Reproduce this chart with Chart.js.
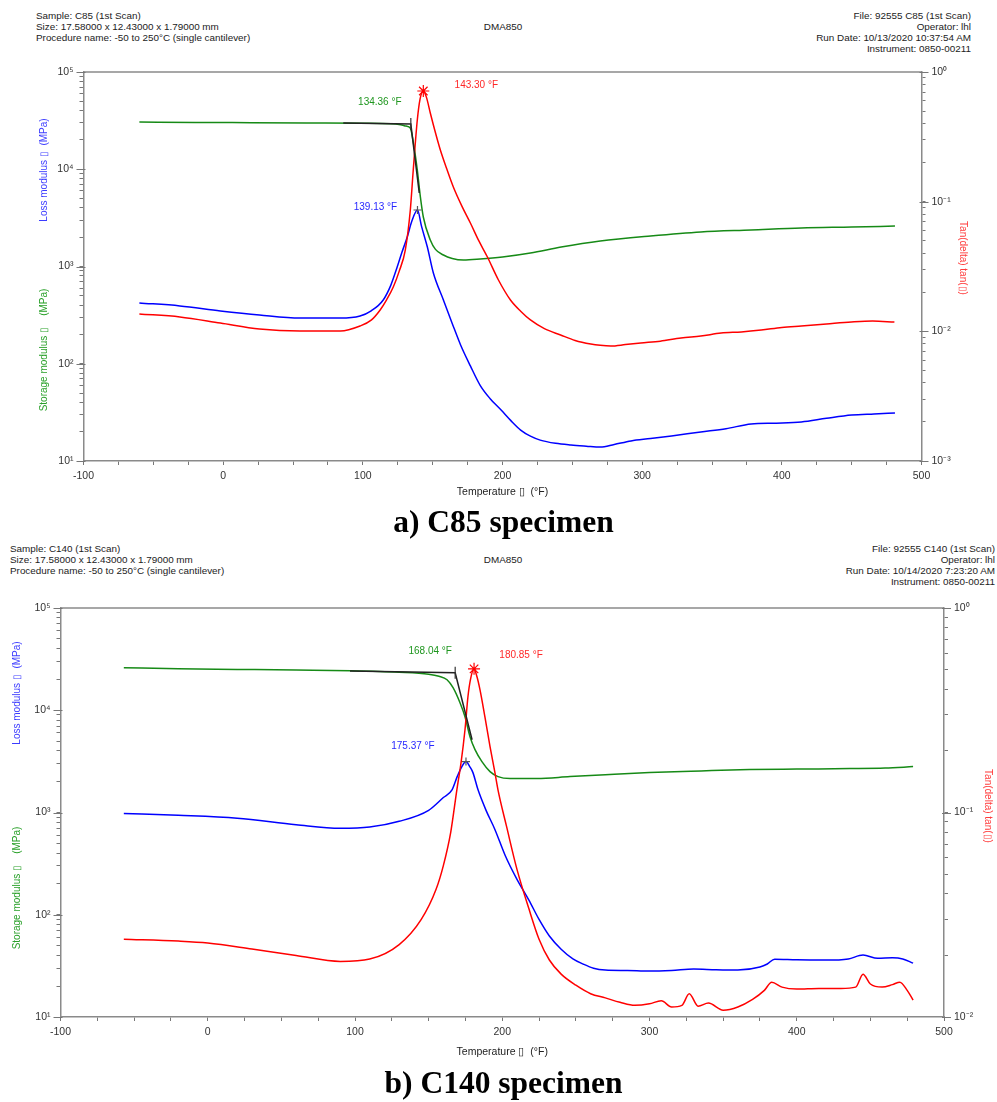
<!DOCTYPE html>
<html><head><meta charset="utf-8">
<script src="https://cdn.jsdelivr.net/npm/chart.js@4.4.0/dist/chart.umd.min.js"></script>
<style>
html,body{margin:0;padding:0;background:#fff;}
body{width:997px;height:1102px;position:relative;overflow:hidden;font-family:"Liberation Sans",Arial,sans-serif;}
.h{position:absolute;font-size:9.9px;color:#222;line-height:11px;white-space:nowrap;}
.cap{position:absolute;font-family:"Liberation Serif","Times New Roman",serif;font-weight:bold;font-size:31.5px;color:#000;left:0;width:1007px;text-align:center;line-height:36px;}
canvas{position:absolute;left:0;}
</style></head>
<body>
<div class="h" style="left:36px;top:10px">Sample: C85 (1st Scan)<br>Size: 17.58000 x 12.43000 x 1.79000 mm<br>Procedure name: -50 to 250°C (single cantilever)</div>
<div class="h" style="left:0;width:1006px;text-align:center;top:21px">DMA850</div>
<div class="h" style="right:26px;top:10px;text-align:right">File: 92555 C85 (1st Scan)<br>Operator: lhl<br>Run Date: 10/13/2020 10:37:54 AM<br>Instrument: 0850-00211</div>
<canvas id="cA" width="997" height="510" style="top:0"></canvas>
<div class="cap" style="top:504px">a) C85 specimen</div>

<div class="h" style="left:10px;top:543px">Sample: C140 (1st Scan)<br>Size: 17.58000 x 12.43000 x 1.79000 mm<br>Procedure name: -50 to 250°C (single cantilever)</div>
<div class="h" style="left:0;width:1006px;text-align:center;top:554px">DMA850</div>
<div class="h" style="right:2px;top:543px;text-align:right">File: 92555 C140 (1st Scan)<br>Operator: lhl<br>Run Date: 10/14/2020 7:23:20 AM<br>Instrument: 0850-00211</div>
<canvas id="cB" width="997" height="540" style="top:530px"></canvas>
<div class="cap" style="top:1065px">b) C140 specimen</div>

<script>
// ---------------- Chart A (C85) ----------------
const A_storageT = [-60,-20,20,60,100,120,127,131,134,136,139,141.2,143.3,148.3,152,157.7,164,172,184,200,220,242,270,306,342,378,414,450,481];
const A_storage  = [30600,30300,30100,29900,29700,29400,28700,27800,26500,19500,9830,5190,3230,1873,1500,1312,1210,1167,1194,1253,1377,1585,1828,2060,2265,2373,2488,2546,2606];
const A_lossT = [-60,-31,-2,26,55,84,98,106,114.6,120,124.6,128,131.8,135,139.13,142,146.2,150.5,157.7,164,170,177,184,191,199,206,213,220,227,238,249,260,270,280,292,306,321,342,360,378,396,414,432,450,466,481];
const A_loss  = [422,393,349,317,295,295,310,350,453,640,988,1400,2010,2900,3810,2600,1585,857,452,260,156,95,60,44,33.4,26,20.8,18,16.4,15.2,14.6,14.2,13.9,14.8,16.1,17,18.1,19.9,21.5,24,24.5,25.2,27.5,29.7,30.5,31.2];
const A_tanT = [-60,-31,-2,26,55,84,98,106,112.4,117,121.8,126,130.4,134,136.1,139,141,143.3,145.5,148.3,152,155.5,160,164.8,171,177,183,189.2,197,205.7,213,220,230,241.6,252,263.2,270,277.5,288,299,313,327.8,342,356.5,371,385.2,400,413.9,432,449.8,465,480.6];
const A_tan  = [0.01361,0.01291,0.01159,0.01043,0.01006,0.01006,0.0110,0.0122,0.01462,0.0175,0.02198,0.029,0.04237,0.0863,0.1755,0.4262,0.62,0.7137,0.64,0.483,0.34,0.2503,0.18,0.1298,0.092,0.0685,0.05,0.03743,0.025,0.01745,0.0143,0.01224,0.0105,0.00937,0.0085,0.00798,0.0078,0.00771,0.0079,0.00813,0.0084,0.00889,0.0092,0.0097,0.0099,0.01023,0.0107,0.0110,0.0114,0.0118,0.0120,0.0118];
const A_onsetT = [86,134.36,140.4];
const A_onset  = [29900,29150,5700];
const A_peaks = {onset:[134.36,29150], loss:[139.13,3810], tan:[143.30,0.7137]};

// ---------------- Chart B (C140) ----------------
const B_storageT = [-57,-20,20,60,97,130,150,157,162.5,166.6,171.3,174.7,178.1,181.5,186.2,191.7,197.1,205.3,223.6,246,270,300,335,368,400,436,460,479];
const B_storage  = [26000,25500,25100,24700,24300,23500,22500,21500,19870,16600,11830,8640,5510,4120,3147,2512,2244,2146,2146,2244,2340,2455,2550,2630,2660,2687,2720,2810];
const B_lossT = [-57,-20,20,60,90,110,130,150,160,166,169.4,172.5,175.37,178,180.1,183.5,189,195,202,210,218,225,232,240,248,255,262,270,285,300,315,330,345,360,375,380,385,400,420,435,445,455,465,472,479];
const B_loss  = [980,940,880,760,700,720,820,1050,1400,1675,2244,2800,3145,2800,2455,1675,1050,683,380,222,140,90,62,46,37,32.9,30,28.8,28.5,28.1,28.5,29.4,29,28.8,30.8,33,36.8,36.2,36,37,40.3,37.5,38,37,33.6];
const B_tanT = [-57,-20,0,30,60,90,110,130,145,155,160,165,169.2,172,174.7,176.7,178.5,180.85,182.5,184.9,188.2,191.7,195,197.1,203,210,218,225,232,240,250,260,270,280,290,300,308,315,322,327,333,340,350,360,370,378,383,390,400,415,430,440,445,450,458,465,470,475,479];
const B_tan  = [0.024,0.0235,0.0230,0.0215,0.0200,0.0187,0.0192,0.0226,0.030,0.042,0.055,0.080,0.1295,0.175,0.254,0.368,0.45,0.504,0.47,0.398,0.294,0.21,0.157,0.129,0.085,0.0527,0.034,0.024,0.019,0.0162,0.0143,0.0130,0.0124,0.0118,0.0114,0.0116,0.0120,0.0112,0.0114,0.0130,0.0113,0.0117,0.0108,0.0112,0.0122,0.0135,0.0148,0.0140,0.0137,0.0138,0.0138,0.0140,0.0162,0.0145,0.0140,0.0144,0.0148,0.0135,0.0121];
const B_onsetT = [96.6,168.04,179.5];
const B_onset  = [24270,23220,5150];
const B_peaks = {onset:[168.04,23220], loss:[175.37,3145], tan:[180.85,0.504]};

const xTickStep = 25;
const FONT = '"Liberation Sans", Arial, sans-serif';
const GREEN = 'rgb(22,138,22)', BLUE = 'rgb(0,0,255)', RED = 'rgb(255,0,0)';

function pts(T, V){ return T.map((t,i)=>({x:t, y:V[i]})); }
const SUP = {'0':'⁰','1':'¹','2':'²','3':'³','4':'⁴','5':'⁵','6':'⁶','7':'⁷','8':'⁸','9':'⁹','-':'⁻'};
function isDecade(v){ const l = Math.log10(v); return Math.abs(l - Math.round(l)) < 1e-6; }
function decadeLabel(v){
  if (!isDecade(v)) return '';
  return '10' + String(Math.round(Math.log10(v))).split('').map(c=>SUP[c]).join('');
}
function logTicks(min, max){
  const out = [];
  for (let e = Math.round(Math.log10(min)); e <= Math.round(Math.log10(max)); e++){
    for (let m = 1; m < 10; m++){
      const v = parseFloat((m*Math.pow(10,e)).toPrecision(6));
      if (v >= min*0.999 && v <= max*1.001) out.push({value:v});
    }
  }
  return out;
}

function makeDeco(cfg){
  return {
    id:'deco',
    afterDatasetsDraw(chart){
      const {ctx, chartArea:a, scales} = chart;
      ctx.save();
      ctx.strokeStyle = '#8a8a8a'; ctx.lineWidth = 1.5;
      ctx.beginPath(); ctx.moveTo(a.left, a.top); ctx.lineTo(a.right, a.top); ctx.stroke();
      // longer decade ticks
      ctx.strokeStyle = '#777'; ctx.lineWidth = 1;
      for (const [id, side] of [['y', -1], ['y2', 1]]){
        const s = scales[id];
        const x0 = side < 0 ? a.left : a.right;
        for (const t of s.ticks){
          if (!isDecade(t.value)) continue;
          const py = Math.round(s.getPixelForValue(t.value)) + 0.5;
          ctx.beginPath(); ctx.moveTo(x0 - side*2, py); ctx.lineTo(x0 + side*7, py); ctx.stroke();
        }
      }
      ctx.textAlign = 'center'; ctx.textBaseline = 'middle';
      ctx.font = '10px ' + FONT;
      for (const t of cfg.titles){
        ctx.save(); ctx.translate(t.x, t.y); ctx.rotate(t.rot*Math.PI/180);
        ctx.fillStyle = t.color; ctx.fillText(t.text, 0, 0); ctx.restore();
      }
      for (const n of cfg.notes){
        const px = scales.x.getPixelForValue(n.at[0]) + n.dx;
        const py = scales[n.axis].getPixelForValue(n.at[1]) + n.dy;
        ctx.fillStyle = n.color; ctx.fillText(n.text, px, py);
      }
      ctx.restore();
    }
  };
}

function axisCommon(){
  return {
    grid:{drawOnChartArea:false, drawTicks:true, tickLength:4, tickColor:'#777', tickWidth:1},
    border:{color:'#8a8a8a', width:1.5},
  };
}

function makeChart(id, cfg){
  const d = cfg.data;
  const line = (data, color, axis) => ({data, borderColor:color, backgroundColor:color, borderWidth:1.5, pointRadius:0, yAxisID:axis, cubicInterpolationMode:'monotone', fill:false});
  const datasets = [
    {data:[{x:d.peaks.tan[0], y:d.peaks.tan[1]}], yAxisID:'y2', showLine:false, pointStyle:'star', pointRadius:6, borderColor:RED, borderWidth:1.2},
    {data:[{x:d.peaks.loss[0], y:d.peaks.loss[1]}], yAxisID:'y', showLine:false, pointStyle:'cross', pointRadius:4, borderColor:'#555', borderWidth:1.2},
    {data:[{x:d.peaks.onset[0], y:d.peaks.onset[1]}], yAxisID:'y', showLine:false, pointStyle:'line', rotation:90, pointRadius:6, borderColor:'#333', borderWidth:1.2},
    {data:pts(d.onsetT, d.onset), borderColor:'#222', borderWidth:1.5, pointRadius:0, yAxisID:'y', tension:0},
    line(pts(d.tanT, d.tan), RED, 'y2'),
    line(pts(d.lossT, d.loss), BLUE, 'y'),
    line(pts(d.storageT, d.storage), GREEN, 'y'),
  ];
  const c = axisCommon();
  return new Chart(document.getElementById(id), {
    type:'line',
    data:{datasets},
    options:{
      responsive:false, animation:false, devicePixelRatio:1,
      layout:{padding:{top:cfg.padTop, left:0, right:0, bottom:0}},
      plugins:{legend:{display:false}, tooltip:{enabled:false}},
      scales:{
        x:{type:'linear', position:'bottom', min:-100, max:500,
           ticks:{stepSize:xTickStep, autoSkip:false, maxRotation:0, padding:5, color:'#333', font:{size:10.5, family:FONT},
                  callback:v => (v % 100 === 0 ? String(v) : '')},
           ...c,
           title:{display:true, text:'Temperature ▯  (°F)', color:'#222', font:{size:10.5, family:FONT}, padding:{top:0, bottom:12}},
           afterFit:s => { s.height = cfg.xH; }
        },
        y:{type:'logarithmic', position:'left', min:10, max:1e5,
           afterBuildTicks:s => { s.ticks = logTicks(10, 1e5); },
           ticks:{autoSkip:false, padding:6, color:'#333', font:{size:10.5, family:FONT}, callback:v => decadeLabel(v)},
           ...c,
           afterFit:s => { s.width = cfg.leftW; }
        },
        y2:{type:'logarithmic', position:'right', min:cfg.rMin, max:1,
           afterBuildTicks:s => { s.ticks = logTicks(cfg.rMin, 1); },
           ticks:{autoSkip:false, padding:6, color:'#333', font:{size:10.5, family:FONT}, callback:v => decadeLabel(v)},
           ...c,
           afterFit:s => { s.width = cfg.rightW; }
        }
      }
    },
    plugins:[makeDeco(cfg)]
  });
}

makeChart('cA', {
  padTop:72, xH:49, leftW:83.5, rightW:75.5, rMin:1e-3,
  data:{storageT:A_storageT, storage:A_storage, lossT:A_lossT, loss:A_loss, tanT:A_tanT, tan:A_tan, onsetT:A_onsetT, onset:A_onset, peaks:A_peaks},
  titles:[
    {text:'Loss modulus ▯  (MPa)', x:44, y:170, rot:-90, color:'rgb(60,60,255)'},
    {text:'Storage modulus ▯    (MPa)', x:44, y:350, rot:-90, color:'rgb(40,160,40)'},
    {text:'Tan(delta) tan(▯)', x:963, y:258, rot:90, color:'rgb(255,60,60)'}
  ],
  notes:[
    {text:'134.36 °F', at:A_peaks.onset, axis:'y', dx:-31, dy:-22, color:'rgb(30,150,30)'},
    {text:'139.13 °F', at:A_peaks.loss, axis:'y', dx:-42, dy:-3, color:'rgb(40,40,255)'},
    {text:'143.30 °F', at:A_peaks.tan, axis:'y2', dx:53, dy:-6, color:'rgb(255,40,40)'}
  ]
});

makeChart('cB', {
  padTop:78, xH:53, leftW:60.5, rightW:53, rMin:1e-2,
  data:{storageT:B_storageT, storage:B_storage, lossT:B_lossT, loss:B_loss, tanT:B_tanT, tan:B_tan, onsetT:B_onsetT, onset:B_onset, peaks:B_peaks},
  titles:[
    {text:'Loss modulus ▯  (MPa)', x:17, y:163, rot:-90, color:'rgb(60,60,255)'},
    {text:'Storage modulus ▯    (MPa)', x:17, y:358, rot:-90, color:'rgb(40,160,40)'},
    {text:'Tan(delta) tan(▯)', x:988, y:276, rot:90, color:'rgb(255,60,60)'}
  ],
  notes:[
    {text:'168.04 °F', at:B_peaks.onset, axis:'y', dx:-25, dy:-22, color:'rgb(30,150,30)'},
    {text:'175.37 °F', at:B_peaks.loss, axis:'y', dx:-53, dy:-15, color:'rgb(40,40,255)'},
    {text:'180.85 °F', at:B_peaks.tan, axis:'y2', dx:47, dy:-14, color:'rgb(255,40,40)'}
  ]
});
</script>
</body></html>
